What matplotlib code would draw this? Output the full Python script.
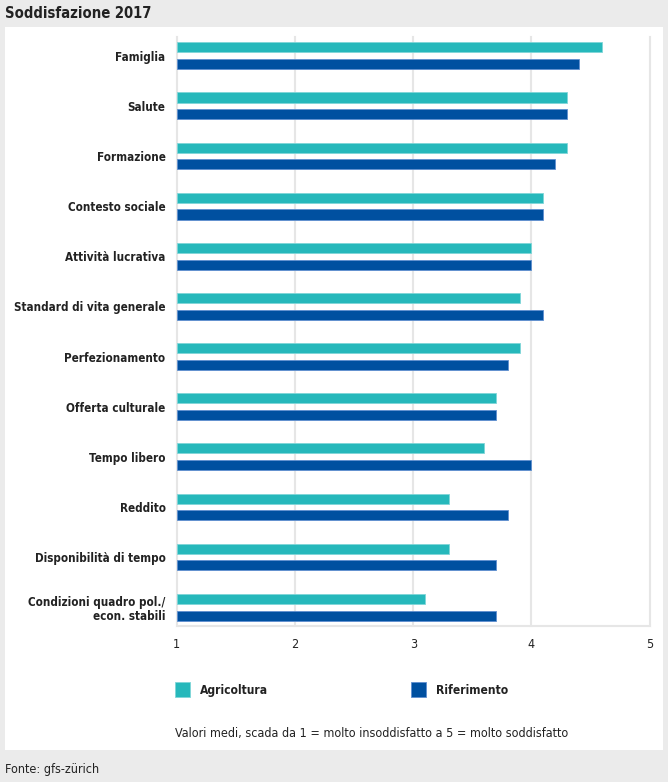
import matplotlib.pyplot as plt
from matplotlib.patches import Rectangle
from matplotlib.font_manager import FontProperties
from matplotlib.textpath import TextPath
import numpy as np

plt.rcParams['font.family'] = ['DejaVu Sans']
plt.rcParams['font.stretch'] = 'condensed'

# dati
categorie = ["Famiglia", "Salute", "Formazione", "Contesto sociale", "Attività lucrativa",
             "Standard di vita generale", "Perfezionamento", "Offerta culturale",
             "Tempo libero", "Reddito", "Disponibilità di tempo",
             "Condizioni quadro pol./\necon. stabili"]
agricoltura = [4.6, 4.3, 4.3, 4.1, 4.0, 3.9, 3.9, 3.7, 3.6, 3.3, 3.3, 3.1]
riferimento = [4.4, 4.3, 4.2, 4.1, 4.0, 4.1, 3.8, 3.7, 4.0, 3.8, 3.7, 3.7]
xticks = [1, 2, 3, 4, 5]

W, H = 668, 782
c_agri = "#26b8bb"
c_rif = "#0050a0"
c_grid = "#e6e6e6"
c_txt = "#222222"


def fit(s, target_px, weight="normal"):
    # grandezza del font per avere la larghezza voluta in pixel
    fp = FontProperties(family="DejaVu Sans", stretch="condensed", weight=weight)
    w = TextPath((0, 0), s, size=10, prop=fp).get_extents().width * 100 / 72
    return 10 * target_px / w


fs_lab = fit("Standard di vita generale", 149, "bold")
fs_note = fit("Valori medi, scada da 1 = molto insoddisfatto a 5 = molto soddisfatto", 393)
fs_title = fit("Soddisfazione 2017", 144, "bold")
fs_leg = fit("Agricoltura", 67, "bold")

fig = plt.figure(figsize=(W / 100, H / 100), dpi=100, facecolor="#ebebeb")


def px(x, y):
    return x / W, 1 - y / H


# pannello bianco
fig.add_artist(Rectangle(px(5, 750), 658 / W, 723 / H, transform=fig.transFigure,
                         facecolor="white", edgecolor="none", zorder=0))

ax = fig.add_axes([176.7 / W, 1 - 625.7 / H, 473 / W, 589 / H])
ax.set_facecolor("none")

y = np.arange(len(categorie))
off = 0.167
h = 0.2
ax.barh(y - off, np.array(agricoltura) - 1, left=1, height=h, color=c_agri,
        edgecolor="#7fd6d8", linewidth=0.6, zorder=3)
ax.barh(y + off, np.array(riferimento) - 1, left=1, height=h, color=c_rif,
        edgecolor="#5f8fcf", linewidth=0.6, zorder=3)

ax.set_xlim(1, 5)
ax.set_ylim(11.37, -0.38)
for t in xticks:
    ax.axvline(t, color=c_grid, lw=1.5, zorder=1, clip_on=False)
for s in ["top", "right", "left"]:
    ax.spines[s].set_visible(False)
ax.spines["bottom"].set_color(c_grid)
ax.spines["bottom"].set_linewidth(1.5)

ax.set_xticks(xticks)
ax.set_xticklabels([str(t) for t in xticks], fontsize=fs_note, color=c_txt)
ax.tick_params(axis="x", length=0, pad=9)
ax.set_yticks(y)
ax.set_yticklabels(categorie, fontsize=fs_lab, fontweight="bold", color=c_txt, linespacing=1.1)
ax.tick_params(axis="y", length=0, pad=8)

# legenda
fig.add_artist(Rectangle(px(175, 697), 15 / W, 15 / H, transform=fig.transFigure,
                         facecolor=c_agri, edgecolor="#7fd6d8", linewidth=0.6))
fig.text(*px(200, 694), "Agricoltura", fontsize=fs_leg, fontweight="bold", va="baseline", color=c_txt)
fig.add_artist(Rectangle(px(411, 697), 15 / W, 15 / H, transform=fig.transFigure,
                         facecolor=c_rif, edgecolor="#5f8fcf", linewidth=0.6))
fig.text(*px(436, 694), "Riferimento", fontsize=fs_leg, fontweight="bold", va="baseline", color=c_txt)

fig.text(*px(175, 733), "Valori medi, scada da 1 = molto insoddisfatto a 5 = molto soddisfatto",
         fontsize=fs_note, va="center", color=c_txt)

fig.text(*px(5, 13), "Soddisfazione 2017", fontsize=fs_title, fontweight="bold", va="center", color=c_txt)
fig.text(*px(5, 769), "Fonte: gfs-zürich", fontsize=fs_note, va="center", color=c_txt)

fig.savefig("out.png", dpi=100, facecolor=fig.get_facecolor())
